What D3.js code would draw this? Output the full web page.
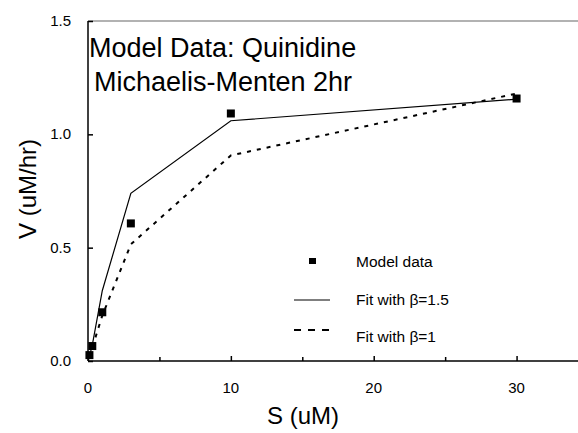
<!DOCTYPE html>
<html lang="en">
<head>
  <meta charset="UTF-8">
  <title>Model Data: Quinidine</title>
  <script src="https://d3js.org/d3.v7.min.js"></script>
  <style>
      body {
          margin: 0;
          padding: 0;
          background: #fff;
          overflow: hidden;
      }
      svg {
          display: block;
          font-family: 'Liberation Sans', Arial, sans-serif;
      }
  </style>
</head>
<body>
  <svg width="578" height="433"></svg>
  <script>
      // substrate concentrations (uM)
      const conc = [0.1, 0.3, 1, 3, 10, 30];
      // model data velocities (uM/hr)
      const modelData = [0.026, 0.066, 0.215, 0.607, 1.092, 1.158];
      // fitted curves
      const fitBeta15 = [0.02, 0.07, 0.31, 0.74, 1.06, 1.155];
      const fitBeta1 = [0.02, 0.06, 0.20, 0.515, 0.907, 1.18];

      const xTicks = [0, 10, 20, 30];
      const xMinorTicks = [5, 15, 25];
      const yTicks = [0, 0.5, 1.0, 1.5];

      const svg = d3.select("svg");

      const x = d3.scaleLinear().domain([0, 35]).range([88, 588]);
      const y = d3.scaleLinear().domain([0, 1.5]).range([361, 21]);

      // top border
      svg.append("line")
          .attr("x1", x(0)).attr("x2", 578)
          .attr("y1", y(1.5)).attr("y2", y(1.5))
          .attr("stroke", "#999").attr("stroke-width", 1.5);

      // x axis (ticks pointing inward)
      const xAxis = svg.append("g")
          .attr("transform", `translate(0,${y(0)})`)
          .call(d3.axisTop(x).tickValues(xTicks).tickSize(5).tickFormat(""));
      xAxis.select(".domain").remove();
      xAxis.append("line")
          .attr("x1", x(0)).attr("x2", 578)
          .attr("stroke", "#000").attr("stroke-width", 1.5);
      xAxis.selectAll(".tick line").attr("stroke-width", 1.5);

      svg.append("g")
          .attr("transform", `translate(0,${y(0)})`)
          .call(d3.axisTop(x).tickValues(xMinorTicks).tickSize(4).tickFormat(""))
          .call(g => g.select(".domain").remove())
          .selectAll(".tick line").attr("stroke-width", 1.5);

      svg.append("g")
          .selectAll("text")
          .data(xTicks)
          .join("text")
          .attr("x", d => x(d))
          .attr("y", y(0) + 32)
          .attr("text-anchor", "middle")
          .attr("font-size", "15px")
          .text(d => d);

      // y axis
      const yAxis = svg.append("g")
          .attr("transform", `translate(${x(0)},0)`)
          .call(d3.axisRight(y).tickValues(yTicks).tickSize(5).tickFormat(""));
      yAxis.select(".domain").remove();
      yAxis.append("line")
          .attr("y1", y(0)).attr("y2", y(1.5))
          .attr("stroke", "#000").attr("stroke-width", 1.5);
      yAxis.selectAll(".tick line").attr("stroke-width", 1.5);

      svg.append("g")
          .selectAll("text")
          .data(yTicks)
          .join("text")
          .attr("x", x(0) - 17)
          .attr("y", d => y(d) + 5)
          .attr("text-anchor", "end")
          .attr("font-size", "15px")
          .text(d => d3.format(".1f")(d));

      // axis titles
      svg.append("text")
          .attr("transform", `translate(36,189) rotate(-90)`)
          .attr("text-anchor", "middle")
          .attr("font-size", "24px")
          .text("V (uM/hr)");

      svg.append("text")
          .attr("x", 303)
          .attr("y", 424)
          .attr("text-anchor", "middle")
          .attr("font-size", "24px")
          .text("S (uM)");

      // chart title
      svg.append("text")
          .attr("x", 89).attr("y", 57)
          .attr("font-size", "27px")
          .text("Model Data: Quinidine");
      svg.append("text")
          .attr("x", 94).attr("y", 91)
          .attr("font-size", "27px")
          .text("Michaelis-Menten 2hr");

      // fit lines
      const line = d3.line().x(d => x(d[0])).y(d => y(d[1]));

      svg.append("path")
          .datum(conc.map((c, i) => [c, fitBeta15[i]]))
          .attr("d", line)
          .attr("fill", "none")
          .attr("stroke", "#000")
          .attr("stroke-width", 1.2);

      svg.append("path")
          .datum(conc.map((c, i) => [c, fitBeta1[i]]))
          .attr("d", line)
          .attr("fill", "none")
          .attr("stroke", "#000")
          .attr("stroke-width", 2)
          .attr("stroke-dasharray", "4,6");

      // data points
      svg.append("g")
          .selectAll("rect")
          .data(conc.map((c, i) => [c, modelData[i]]))
          .join("rect")
          .attr("x", d => x(d[0]) - 4)
          .attr("y", d => y(d[1]) - 4)
          .attr("width", 8)
          .attr("height", 8)
          .attr("fill", "#000");

      // legend
      const legend = svg.append("g");
      legend.append("rect")
          .attr("x", 309).attr("y", 258)
          .attr("width", 7).attr("height", 6)
          .attr("fill", "#000");
      legend.append("line")
          .attr("x1", 294).attr("x2", 330)
          .attr("y1", 300).attr("y2", 300)
          .attr("stroke", "#000").attr("stroke-width", 1.2);
      legend.append("line")
          .attr("x1", 294).attr("x2", 330)
          .attr("y1", 330).attr("y2", 330)
          .attr("stroke", "#000").attr("stroke-width", 2)
          .attr("stroke-dasharray", "7,7");

      const legendLabels = ["Model data", "Fit with \u03b2=1.5", "Fit with \u03b2=1"];
      legend.selectAll("text")
          .data(legendLabels)
          .join("text")
          .attr("x", 356)
          .attr("y", (d, i) => 267 + i * 37.5)
          .attr("font-size", "15.5px")
          .text(d => d);
  </script>
</body>
</html>
